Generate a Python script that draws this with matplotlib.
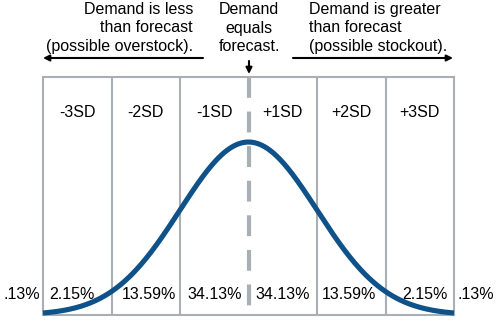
import numpy as np
import matplotlib
matplotlib.use("Agg")
import matplotlib.pyplot as plt

plt.rcParams['font.family'] = ['Liberation Sans', 'DejaVu Sans']

# ---- data ----
sd_labels = ["-3SD", "-2SD", "-1SD", "+1SD", "+2SD", "+3SD"]
band_pcts = ["2.15%", "13.59%", "34.13%", "34.13%", "13.59%", "2.15%"]
tail_pct = ".13%"
band_edges = [-3, -2, -1, 0, 1, 2, 3]
left_text = ["Demand is less", "than forecast", "(possible overstock)."]
mid_text = ["Demand", "equals", "forecast."]
right_text = ["Demand is greater", "than forecast", "(possible stockout)."]

# bell curve (standard normal)
z = np.linspace(-3, 3, 400)
pdf = np.exp(-z**2 / 2) / np.sqrt(2 * np.pi)

# ---- layout ----
W, H = 498, 326
BLUE = "#0e5289"
GRAY = "#a9afb2"
FS = 11.5

fig = plt.figure(figsize=(W / 100, H / 100), dpi=100)
L, R, T, B = 43, 454, 77, 315
ax = fig.add_axes([L / W, (H - B) / H, (R - L) / W, (B - T) / H])
ax.set_xlim(-3, 3)
ax.set_ylim(-0.0002, 0.549)
ax.set_xticks([])
ax.set_yticks([])
for s in ax.spines.values():
    s.set_color(GRAY)
    s.set_linewidth(1.5)

for e in band_edges[1:-1]:
    if e == 0:
        ax.plot([0, 0], [0.549, -0.0002], color=GRAY, lw=3,
                dashes=(5, 3.3), solid_capstyle='butt', dash_capstyle='butt', zorder=1)
    else:
        ax.axvline(e, color=GRAY, lw=1.5, zorder=1)

ax.plot(z, pdf, color=BLUE, lw=3.7, solid_capstyle='butt', zorder=3, clip_on=False)

def fy(ypx):
    return (H - ypx) / H

def fx(xpx):
    return xpx / W

# SD labels and percentages (centered in bands)
pct_shift = [-0.08, 0.04, 0.0, 0.0, -0.03, 0.08]
for i, (lab, pct) in enumerate(zip(sd_labels, band_pcts)):
    c = (band_edges[i] + band_edges[i + 1]) / 2
    xpx = L + (c + 3) / 6 * (R - L)
    fig.text(fx(xpx), fy(117), lab, ha='center', va='baseline', fontsize=FS)
    fig.text(fx(xpx + pct_shift[i] * 68.5), fy(299), pct, ha='center', va='baseline', fontsize=FS)

fig.text(fx(22), fy(299), tail_pct, ha='center', va='baseline', fontsize=FS)
fig.text(fx(476), fy(299), tail_pct, ha='center', va='baseline', fontsize=FS)

# top annotations
baselines = [14, 32.5, 51]
for yb, t in zip(baselines, left_text):
    fig.text(fx(193), fy(yb), t, ha='right', va='baseline', fontsize=FS)
for yb, t in zip(baselines, mid_text):
    fig.text(fx(249), fy(yb), t, ha='center', va='baseline', fontsize=FS)
for yb, t in zip(baselines, right_text):
    fig.text(fx(309), fy(yb), t, ha='left', va='baseline', fontsize=FS)

arrow_kw = dict(arrowstyle='-|>', color='black', lw=1.5, mutation_scale=9,
                shrinkA=0, shrinkB=0)
ax.annotate('', xy=(43, H - 58), xytext=(203, H - 58),
            xycoords='figure pixels', textcoords='figure pixels', arrowprops=arrow_kw)
ax.annotate('', xy=(453, H - 58), xytext=(293, H - 58),
            xycoords='figure pixels', textcoords='figure pixels', arrowprops=arrow_kw)
ax.annotate('', xy=(249, H - 74), xytext=(249, H - 61),
            xycoords='figure pixels', textcoords='figure pixels', arrowprops=arrow_kw)

fig.savefig("out.png", dpi=100)
